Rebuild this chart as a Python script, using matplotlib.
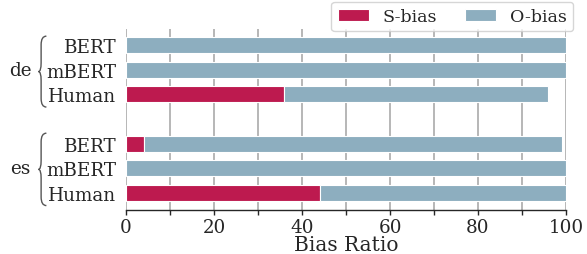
import matplotlib
matplotlib.use("Agg")
import matplotlib.pyplot as plt
import numpy as np
from matplotlib.path import Path
from matplotlib.patches import PathPatch
from matplotlib.transforms import blended_transform_factory

# data
models = ["BERT", "mBERT", "Human", "BERT", "mBERT", "Human"]
languages = ["de", "es"]
s_bias = [0, 0, 36, 4, 0, 44]
o_bias = [100, 100, 60, 95, 100, 56]

S_COLOR = "#bd1a4f"
O_COLOR = "#8daebf"
TEXT = "#262626"

plt.rcParams["font.family"] = ["DejaVu Serif"]

positions = np.array([0, 1, 2, 4, 5, 6])  # gap between the two language groups
height = 0.65

fig = plt.figure(figsize=(5.87, 2.55), dpi=100)
ax = fig.add_axes([0.2147, 0.1725, 0.7495, 0.7099])

ax.barh(positions, s_bias, height, color=S_COLOR, edgecolor="white", linewidth=0.8,
        label="S-bias", zorder=3)
ax.barh(positions, o_bias, height, left=s_bias, color=O_COLOR, edgecolor="white",
        linewidth=0.8, label="O-bias", zorder=3)

ax.set_xlim(0, 100)
ax.set_ylim(6.7, -0.65)
ax.set_yticks(positions)
ax.set_yticklabels(models, fontsize=13.2, color=TEXT)
ax.tick_params(axis="y", length=0, pad=7)

ax.set_xticks([0, 20, 40, 60, 80, 100])
ax.set_xticks([10, 30, 50, 70, 90], minor=True)
ax.tick_params(axis="x", which="both", labelsize=13.2, colors=TEXT, length=3.5, width=1,
               direction="out", pad=2.5)
ax.set_xlabel("Bias Ratio", fontsize=14.5, color=TEXT, labelpad=-1)

# vertical grid at every 10
ax.grid(False)
for xv in range(0, 101, 10):
    ax.axvline(xv, color="#a3a3a3", lw=1.1, zorder=1)

for side in ["top", "right", "left"]:
    ax.spines[side].set_visible(False)
ax.spines["bottom"].set_color(TEXT)
ax.spines["bottom"].set_linewidth(1)

# curly braces grouping the languages
trans = blended_transform_factory(ax.transAxes, ax.transData)


def brace(y_top, y_bot, x_end=-0.181, x_line=-0.193, x_tip=-0.199):
    mid = (y_top + y_bot) / 2
    r = 0.35
    verts = [(x_end, y_top), (x_line, y_top), (x_line, y_top + r),
             (x_line, mid - r), (x_line, mid), (x_tip, mid),
             (x_line, mid), (x_line, mid + r),
             (x_line, y_bot - r), (x_line, y_bot), (x_end, y_bot)]
    codes = [Path.MOVETO, Path.CURVE3, Path.CURVE3,
             Path.LINETO, Path.CURVE3, Path.CURVE3,
             Path.CURVE3, Path.CURVE3,
             Path.LINETO, Path.CURVE3, Path.CURVE3]
    ax.add_patch(PathPatch(Path(verts, codes), transform=trans, fill=False,
                           edgecolor="#555555", lw=1.0, clip_on=False))


brace(-0.36, 2.52)
brace(3.58, 6.52)
ax.text(-0.241, 1, languages[0], transform=trans, ha="center", va="center",
        fontsize=13.2, color=TEXT)
ax.text(-0.241, 5, languages[1], transform=trans, ha="center", va="center",
        fontsize=13.2, color=TEXT)

leg = ax.legend(loc="upper right", bbox_to_anchor=(1.016, 1.15), ncol=2,
                fontsize=12.5, frameon=True, borderaxespad=0, handlelength=1.8,
                handletextpad=0.8, columnspacing=1.6, borderpad=0.35, fancybox=True)
for t in leg.get_texts():
    t.set_color(TEXT)
leg.get_frame().set_edgecolor("#cccccc")

fig.savefig("out.png", dpi=100)
